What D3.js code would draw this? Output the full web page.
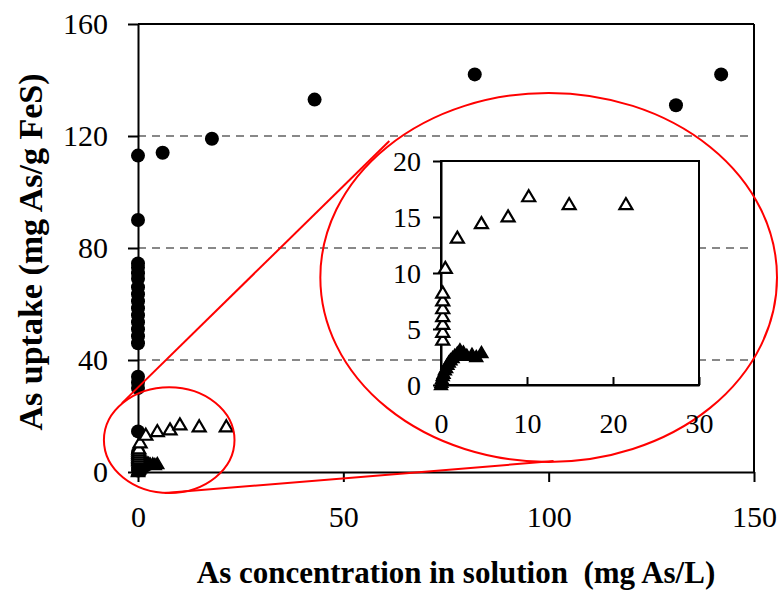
<!DOCTYPE html>
<html>
<head>
<meta charset="utf-8">
<script src="https://cdn.jsdelivr.net/npm/d3@7"></script>
<style>
  body { margin: 0; background: #fff; }
  svg text { font-family: 'Liberation Serif', 'Times New Roman', Times, 'DejaVu Serif', serif !important; }
  .axis-title { font-weight: bold; fill: #000; }
</style>
</head>
<body>
<svg id="chart" width="779" height="592"></svg>
<script>
// filled circles (main plot only)
var circleX = [0, 0, 0, 0, 0, 0, 0, 0, 0, 0, 0, 0, 0, 0, 0, 0, 0, 0, 0, 0, 0, 0, 0, 0,
  6, 18, 43, 82, 131, 142];
var circleY = [113, 90, 74.5, 73, 71, 69, 66, 63.5, 61, 58.5, 56, 53.5, 51, 48.5, 46, 34, 32, 30, 14.5, 7, 5, 3, 1.5, 0.5,
  114, 119, 133, 142, 131, 142];

// open triangles
var openX = [0.2, 0.2, 0.2, 0.2, 0.2, 0.2, 0.2, 0.5, 1.9, 4.7, 7.8, 10.2, 14.9, 21.5];
var openY = [4.0, 4.7, 5.4, 6.1, 6.8, 7.5, 8.2, 10.4, 13.1, 14.4, 15.0, 16.8, 16.1, 16.1];

// filled triangles
var fillX = [0, 0.05, 0.1, 0.2, 0.3, 0.45, 0.6, 0.75, 0.9, 1.1, 1.35, 1.6, 1.9, 2.2, 2.6, 3.0, 3.6, 4.1, 4.7];
var fillY = [0, 0.2, 0.5, 0.8, 1.0, 1.3, 1.5, 1.8, 2.0, 2.2, 2.4, 2.6, 2.8, 3.1, 2.9, 2.6, 2.7, 2.5, 2.85];

var mainXTicks = [0, 50, 100, 150];
var mainYTicks = [0, 40, 80, 120, 160];
var gridYValues = [40, 80, 120];
var insetXTicks = [0, 10, 20, 30];
var insetYTicks = [0, 5, 10, 15, 20];

var svg = d3.select('#chart');

var x = d3.scaleLinear().domain([0, 150]).range([138, 754]);
var y = d3.scaleLinear().domain([0, 160]).range([472, 24]);

var ix = d3.scaleLinear().domain([0, 30]).range([441, 699]);
var iy = d3.scaleLinear().domain([0, 20]).range([385, 161]);

function triPath(s) {
  var h = s * 0.85;
  return 'M0,' + (-h * 0.6) + 'L' + (s / 2) + ',' + (h * 0.4) + 'L' + (-s / 2) + ',' + (h * 0.4) + 'Z';
}

// grid lines
svg.append('g').selectAll('line')
  .data(gridYValues)
  .enter().append('line')
  .attr('x1', x(0)).attr('x2', x(150))
  .attr('y1', function(d) { return y(d); })
  .attr('y2', function(d) { return y(d); })
  .attr('stroke', '#888')
  .attr('stroke-width', 2)
  .attr('stroke-dasharray', '8,6');

// frame top / right
svg.append('line').attr('x1', x(0)).attr('x2', x(150)).attr('y1', y(160)).attr('y2', y(160))
  .attr('stroke', '#000').attr('stroke-width', 2);
svg.append('line').attr('x1', x(150)).attr('x2', x(150)).attr('y1', y(160)).attr('y2', y(0))
  .attr('stroke', '#000').attr('stroke-width', 2);

// main axes
var xAxis = svg.append('g')
  .attr('transform', 'translate(0,' + y(0) + ')')
  .call(d3.axisBottom(x).tickValues(mainXTicks).tickSize(10).tickPadding(19).tickSizeOuter(0));
var yAxis = svg.append('g')
  .attr('transform', 'translate(' + x(0) + ',0)')
  .call(d3.axisLeft(y).tickValues(mainYTicks).tickSize(10).tickPadding(20).tickSizeOuter(0));
[xAxis, yAxis].forEach(function(a) {
  a.attr('font-family', null).attr('font-size', 30);
  a.select('.domain').attr('stroke', '#000').attr('stroke-width', 2);
  a.selectAll('.tick line').attr('stroke', '#000').attr('stroke-width', 2);
  a.selectAll('.tick text').attr('fill', '#000');
});
xAxis.selectAll('.tick text').attr('dy', '0.85em');
yAxis.selectAll('.tick text').attr('dy', '0.33em');

// main data
svg.append('g').selectAll('circle')
  .data(circleX.map(function(d, i) { return [d, circleY[i]]; }))
  .enter().append('circle')
  .attr('cx', function(d) { return x(d[0]); })
  .attr('cy', function(d) { return y(d[1]); })
  .attr('r', 7)
  .attr('fill', '#000');

svg.append('g').selectAll('path')
  .data(fillX.map(function(d, i) { return [d, fillY[i]]; }))
  .enter().append('path')
  .attr('d', triPath(13))
  .attr('transform', function(d) { return 'translate(' + x(d[0]) + ',' + y(d[1]) + ')'; })
  .attr('fill', '#000').attr('stroke', '#000').attr('stroke-width', 1.5);

svg.append('g').selectAll('path')
  .data(openX.map(function(d, i) { return [d, openY[i]]; }))
  .enter().append('path')
  .attr('d', triPath(13))
  .attr('transform', function(d) { return 'translate(' + x(d[0]) + ',' + y(d[1]) + ')'; })
  .attr('fill', '#fff').attr('stroke', '#000').attr('stroke-width', 2.2);

// zoom annotation (red ellipses and connectors, in main data units)
var red = '#f00';
svg.append('ellipse')
  .attr('cx', x(7.6)).attr('cy', y(11.4))
  .attr('rx', x(15.9) - x(0)).attr('ry', y(0) - y(18.9))
  .attr('fill', 'none').attr('stroke', red).attr('stroke-width', 2);
svg.append('ellipse')
  .attr('cx', x(100)).attr('cy', y(69.5))
  .attr('rx', x(55.6) - x(0)).attr('ry', y(0) - y(65.9))
  .attr('fill', 'none').attr('stroke', red).attr('stroke-width', 2);
svg.append('line')
  .attr('x1', x(-3.9)).attr('y1', y(24.6)).attr('x2', x(61.2)).attr('y2', y(118.2))
  .attr('stroke', red).attr('stroke-width', 2);
svg.append('line')
  .attr('x1', x(6.5)).attr('y1', y(-7.5)).attr('x2', x(101.2)).attr('y2', y(3.9))
  .attr('stroke', red).attr('stroke-width', 2);

// inset
var inset = svg.append('g');
inset.append('rect')
  .attr('x', ix(0)).attr('y', iy(20))
  .attr('width', ix(30) - ix(0)).attr('height', iy(0) - iy(20))
  .attr('fill', '#fff').attr('stroke', '#000').attr('stroke-width', 2);

var ixAxis = inset.append('g')
  .attr('transform', 'translate(0,' + iy(0) + ')')
  .call(d3.axisBottom(ix).tickValues(insetXTicks).tickSize(-8).tickPadding(24).tickSizeOuter(0));
var iyAxis = inset.append('g')
  .attr('transform', 'translate(' + ix(0) + ',0)')
  .call(d3.axisLeft(iy).tickValues(insetYTicks).tickSize(8).tickPadding(12).tickSizeOuter(0));
[ixAxis, iyAxis].forEach(function(a) {
  a.attr('font-family', null).attr('font-size', 28);
  a.select('.domain').attr('stroke', '#000').attr('stroke-width', 2);
  a.selectAll('.tick line').attr('stroke', '#000').attr('stroke-width', 2);
  a.selectAll('.tick text').attr('fill', '#000');
});
ixAxis.selectAll('.tick text').attr('dy', '0.85em');
iyAxis.selectAll('.tick text').attr('dy', '0.33em');

inset.append('g').selectAll('path')
  .data(fillX.map(function(d, i) { return [d, fillY[i]]; }))
  .enter().append('path')
  .attr('d', triPath(13))
  .attr('transform', function(d) { return 'translate(' + ix(d[0]) + ',' + iy(d[1]) + ')'; })
  .attr('fill', '#000').attr('stroke', '#000').attr('stroke-width', 1.5);

inset.append('g').selectAll('path')
  .data(openX.map(function(d, i) { return [d, openY[i]]; }))
  .enter().append('path')
  .attr('d', triPath(13))
  .attr('transform', function(d) { return 'translate(' + ix(d[0]) + ',' + iy(d[1]) + ')'; })
  .attr('fill', '#fff').attr('stroke', '#000').attr('stroke-width', 2.2);

// axis titles
svg.append('text')
  .attr('class', 'axis-title')
  .attr('x', 456).attr('y', 583)
  .attr('font-size', 31)
  .attr('text-anchor', 'middle')
  .attr('xml:space', 'preserve')
  .text('As concentration in solution  (mg As/L)');

svg.append('text')
  .attr('class', 'axis-title')
  .attr('font-size', 34)
  .attr('transform', 'translate(42,252) rotate(-90)')
  .attr('text-anchor', 'middle')
  .text('As uptake (mg As/g FeS)');
</script>
</body>
</html>
